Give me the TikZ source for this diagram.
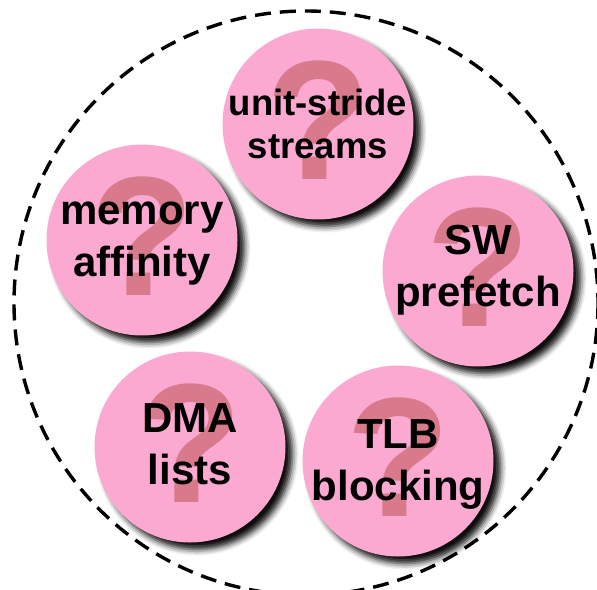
\documentclass[tikz,border=0pt]{standalone}
\usepackage{fontspec}
\setmainfont{Liberation Sans}
\usetikzlibrary{shadows.blur}
\definecolor{bubblepink}{RGB}{252,169,210}
\definecolor{qmarkpink}{RGB}{217,122,140}
\begin{document}
\begin{tikzpicture}[x=1pt,y=-1pt,
  bubble/.style={circle, fill=bubblepink, minimum size=191pt, inner sep=0pt,
    blur shadow={shadow xshift=7pt, shadow yshift=-7pt, shadow blur radius=6pt, shadow opacity=95}},
  qm/.style={text=qmarkpink, inner sep=0pt, font=\fontsize{170}{170}\selectfont\bfseries},
  lbl/.style={align=center, inner sep=0pt, font=\fontsize{42}{52}\selectfont\bfseries},
  lblsmall/.style={align=center, inner sep=0pt, font=\fontsize{36.5}{43}\selectfont\bfseries},
  outer/.style={dash pattern=on 16pt off 9pt, line width=3.4pt}]
\useasboundingbox (0,0) rectangle (597,589);
\draw[outer] (306,303) circle[radius=292];
% bubbles
\node[bubble] (b1) at (318,124) {};
\node[bubble] (b2) at (142,240) {};
\node[bubble] (b3) at (478,271) {};
\node[bubble] (b4) at (190,447) {};
\node[bubble] (b5) at (398,461) {};
% question marks
\node[qm] (q1) at ([yshift=3.5pt]b1.center) {?};
\node[qm] (q2) at ([yshift=3.5pt]b2.center) {?};
\node[qm] (q3) at ([yshift=3.5pt]b3.center) {?};
\node[qm] (q4) at ([yshift=3.5pt]b4.center) {?};
\node[qm] (q5) at ([yshift=3.5pt]b5.center) {?};
% labels
\node[lblsmall] (t1) at (318,123.5) {unit-stride\\streams};
\node[lbl] (t2) at (142,244) {memory\\affinity};
\node[lbl] (t3) at (478,270) {SW\\prefetch};
\node[lbl] (t4) at (190,444) {DMA\\lists};
\node[lbl] (t5) at (398,464) {TLB\\blocking};
\end{tikzpicture}
\end{document}
